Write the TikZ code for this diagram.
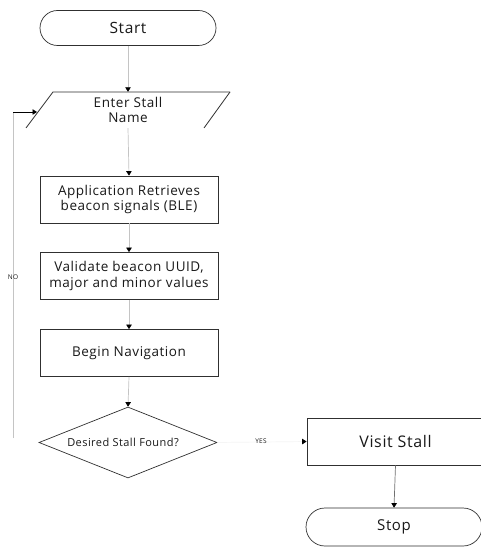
\documentclass[tikz,border=0pt]{standalone}
\usepackage{fontspec}
\setmainfont{Open Sans}[LetterSpace=4]
\usetikzlibrary{arrows.meta,shapes.geometric,shapes.misc}
\definecolor{flowline}{HTML}{C4C4C4}
\definecolor{darkline}{HTML}{707070}
\definecolor{boxline}{HTML}{303030}
\begin{document}
\begin{tikzpicture}[x=1pt,y=-1pt,
  every node/.style={font=\fontsize{13.5}{15.5}\selectfont, text=black!90, align=center},
  terminal/.style={rounded rectangle, draw=boxline, line width=0.7pt, minimum width=176pt, inner sep=0pt},
  procbox/.style={rectangle, draw=boxline, line width=0.8pt, minimum width=178pt, minimum height=47pt, inner sep=0pt},
  decision/.style={diamond, draw=boxline, line width=0.7pt, minimum width=178pt, minimum height=71pt, aspect=2.5, inner sep=0pt, font=\fontsize{11}{13}\selectfont},
  flow/.style={draw=flowline, line width=0.7pt, -{Triangle[color=black,width=5.5pt,length=4.5pt]}},
  darkflow/.style={draw=darkline, line width=0.7pt, -{Triangle[color=black,width=5.5pt,length=4.5pt]}},
  blackflow/.style={draw=black, line width=0.7pt, -{Triangle[color=black,width=5.5pt,length=4.5pt]}},
  smalllabel/.style={font=\fontsize{6.5}{8}\selectfont}
]
\useasboundingbox (0,0) rectangle (481,548);
\clip (0,0) rectangle (481,548);
\fill[white] (0,0) rectangle (481,548);

% Start
\node[terminal, minimum height=35pt, font=\fontsize{15.5}{17}\selectfont] (start) at (128,28) {Start};

% Enter Stall Name (parallelogram, bottom edge not shown)
\node[minimum width=178pt, minimum height=36pt, inner sep=0pt] (par) at (128,110) {Enter Stall\\Name};
\draw[boxline, line width=0.8pt] (26,128) -- (53,92) -- (230,92);
\draw[boxline, line width=0.8pt] (204,128) -- (230,92);
\coordinate (parleft) at (37,112);

% Process boxes
\node[procbox] (retrieve) at (129,199.5) {Application Retrieves\\beacon signals (BLE)};
\node[procbox] (validate) at (129,276) {Validate beacon UUID,\\major and minor values};
\node[procbox] (navigate) at (129,353) {Begin Navigation};

% Decision
\node[decision] (found) at (128,442.5) {Desired Stall Found?\hspace*{10pt}};

% Visit Stall
\node[procbox, minimum width=177pt, font=\fontsize{16}{18}\selectfont] (visit) at (395.5,441.5) {Visit Stall};

% Stop
\node[terminal, minimum height=38pt, font=\fontsize{15}{17}\selectfont] (stop) at (394,527) {Stop};

% Connectors
\draw[flow] (start.south) -- (par.north);
\draw[flow] (par.south) -- (retrieve.north);
\draw[flow] (retrieve.south) -- (validate.north);
\draw[flow] (validate.south) -- (navigate.north);
\draw[flow] (navigate.south) -- (found.north);
\draw[draw=white!96!black, line width=0.7pt, -{Triangle[color=black,width=5.5pt,length=4.5pt]}] (found.east) -- (visit.west);
\draw[darkflow] (visit.south) -- (stop.north);

% NO loop
\coordinate (loopbottom) at (13,438);
\coordinate (looptop) at (13,112);
\draw[flowline, line width=0.7pt] (loopbottom) -- (looptop);
\draw[blackflow] (looptop) -- (parleft);

% Labels
\node[smalllabel] (nolabel) at (13,277) {NO};
\node[smalllabel] (yeslabel) at (261,441) {YES};
\end{tikzpicture}
\end{document}
